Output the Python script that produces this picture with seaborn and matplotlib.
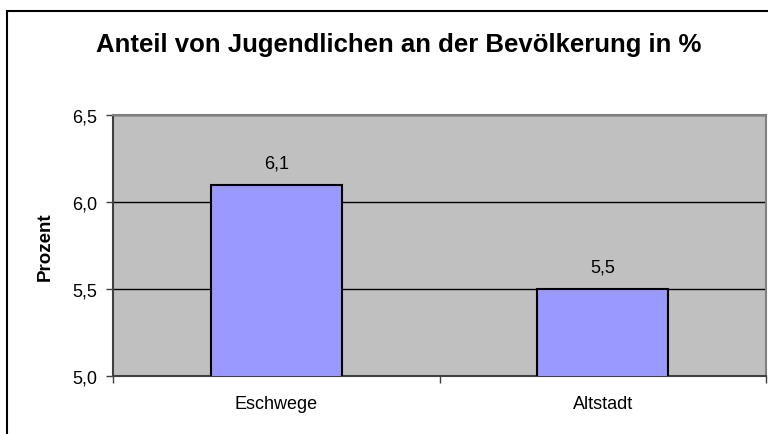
import matplotlib
matplotlib.use("Agg")
import matplotlib.pyplot as plt
import seaborn as sns
import pandas as pd
from matplotlib.patches import Rectangle
from matplotlib.ticker import FuncFormatter, FixedLocator

# data
gebiete = ["Eschwege", "Altstadt"]
anteil = [6.1, 5.5]

df = pd.DataFrame({"Gebiet": gebiete, "Anteil": anteil})

sns.set_style("white")
plt.rcParams["font.family"] = ["Liberation Sans", "DejaVu Sans"]
plt.rcParams["text.color"] = "black"
plt.rcParams["axes.labelcolor"] = "black"
plt.rcParams["xtick.color"] = "black"
plt.rcParams["ytick.color"] = "black"

fig = plt.figure(figsize=(7.68, 4.35), dpi=100)
ax = fig.add_axes([113 / 768, 58 / 435, 653 / 768, 261 / 435])

sns.barplot(data=df, x="Gebiet", y="Anteil", color="#9999FF", saturation=1,
            width=0.4, edgecolor="black", linewidth=1.5, ax=ax, zorder=3)

ax.set_facecolor("#C0C0C0")
ax.set_ylim(5.0, 6.5)
ax.set_xlim(-0.5, 1.5)
ax.set_yticks([5.0, 5.5, 6.0, 6.5])
ax.yaxis.set_major_formatter(FuncFormatter(lambda v, p: f"{v:.1f}".replace(".", ",")))
ax.yaxis.grid(True, color="black", linewidth=1)
ax.set_axisbelow(True)

# Excel-like axes
for s in ["top", "right"]:
    ax.spines[s].set_color("#808080")
    ax.spines[s].set_linewidth(1.5)
for s in ["left", "bottom"]:
    ax.spines[s].set_color("#404040")
    ax.spines[s].set_linewidth(1.5)

ax.tick_params(axis="y", direction="out", length=5, width=1, color="#404040",
               labelcolor="black", pad=6.5, labelsize=13, left=True)
ax.tick_params(axis="x", which="major", length=0, pad=14, labelsize=13,
               labelcolor="black")
ax.xaxis.set_minor_locator(FixedLocator([-0.5, 0.5, 1.5]))
ax.tick_params(axis="x", which="minor", direction="out", length=5, width=1,
               color="#404040", bottom=True)

ax.set_xlabel("")
ax.set_ylabel("Prozent", fontsize=13.5, fontweight="bold")
ax.yaxis.set_label_coords(-0.091, 0.5)

labels = [f"{v:.1f}".replace(".", ",") for v in anteil]
ax.bar_label(ax.containers[0], labels=labels, padding=9.5, fontsize=13)

fig.text(0.519, 383 / 435, "Anteil von Jugendlichen an der Bevölkerung in %",
         ha="center", va="baseline", fontsize=18.5, fontweight="bold")

# chart area border (runs off the right/bottom edge)
fig.patches.append(Rectangle((7 / 768, -0.1), 1.2, 0.1 + 423 / 435,
                             transform=fig.transFigure, fill=False,
                             edgecolor="black", linewidth=1.5))

fig.savefig("out.png", dpi=100)
